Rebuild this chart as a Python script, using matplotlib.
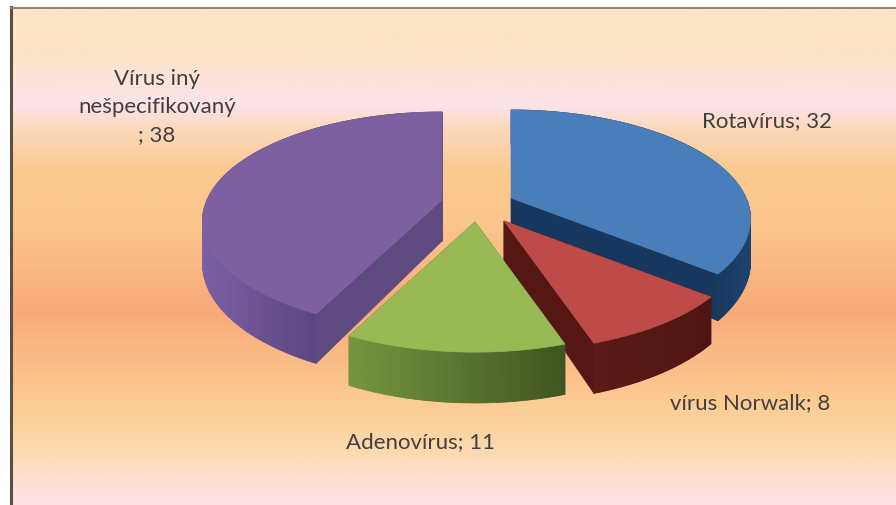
import numpy as np
import matplotlib
matplotlib.use("Agg")
import matplotlib.pyplot as plt
from matplotlib.colors import to_rgb
from matplotlib.patches import Polygon

categories = ["Rotavírus", "vírus Norwalk", "Adenovírus", "Vírus iný nešpecifikovaný"]
values = [32, 8, 11, 38]

# Slice styles, same order as categories
top_colors = ["#4a7ebb", "#be4b48", "#98b954", "#7d60a0"]
cut_colors = ["#17375e", "#551714", "#4f6228", "#5f4a80"]
rim_left = ["#17375e", "#5a1a17", "#76963f", "#7a5fa6"]
rim_right = ["#1c4472", "#4d1512", "#3f5420", "#5b4580"]
apex = [(511, 198), (504, 221), (475, 222), (442, 200)]

RX, RY, K, DEPTH = 235, 105, 0.193, 41


def project(center, theta, r=1.0):
    # flat disc with a little perspective, theta clockwise from the top
    s = 1 / (1 + K * r * np.cos(theta))
    x = center[0] + RX * r * np.sin(theta) * s
    y = center[1] - RY * r * np.cos(theta) * s
    return x, y, s


fig = plt.figure(figsize=(8.96, 5.05), dpi=100)
ax = fig.add_axes([0, 0, 1, 1])
ax.set_xlim(0, 896)
ax.set_ylim(505, 0)
ax.axis("off")

# Background gradient
stop_y = [8, 45, 88, 102, 128, 170, 225, 310, 400, 450, 495, 505]
stop_c = ["#fde6c8", "#fde5c6", "#fde3de", "#fde4ec", "#fcd9bd", "#fbc98f", "#fbc68c",
          "#f9a97a", "#fccb92", "#fdd9ae", "#fde2e4", "#fde2e4"]
ys = np.arange(8, 506)
rgb = np.array([to_rgb(c) for c in stop_c])
grad = np.stack([np.interp(ys, stop_y, rgb[:, i]) for i in range(3)], axis=1)[:, None, :]
ax.imshow(grad, extent=(12, 896, 505, 8), aspect="auto", zorder=0)
ax.set_xlim(0, 896)
ax.set_ylim(505, 0)
ax.plot([11, 11], [7, 505], color="#5a5042", lw=2.2, zorder=1)
ax.plot([11, 896], [7.5, 7.5], color="#8c8474", lw=1.4, zorder=1)

# Slice angles come from the values
edges = np.concatenate([[0], np.cumsum(values)]) / np.sum(values) * 2 * np.pi

# Back to front
z = 2
for i in [0, 3, 1, 2]:
    c = apex[i]
    thetas = np.linspace(edges[i], edges[i + 1], 120)
    px, py, ps = project(c, thetas)

    # cut faces
    for j in [0, -1]:
        quad = [(c[0], c[1]), (px[j], py[j]), (px[j], py[j] + DEPTH * ps[j]), (c[0], c[1] + DEPTH)]
        ax.add_patch(Polygon(quad, closed=True, fc=cut_colors[i], ec=cut_colors[i], lw=0.5, zorder=z))
    z += 1

    # outer rim, shaded from left to right
    lo, hi = np.array(to_rgb(rim_left[i])), np.array(to_rgb(rim_right[i]))
    vis_x = px[np.cos(thetas) < 0.25] if np.any(np.cos(thetas) < 0.25) else px
    for j in range(len(thetas) - 1):
        if px[j] == px[j + 1]:
            continue
        t = np.clip((0.5 * (px[j] + px[j + 1]) - vis_x.min()) / (vis_x.max() - vis_x.min()), 0, 1)
        col = lo + (hi - lo) * t
        quad = [(px[j], py[j]), (px[j + 1], py[j + 1]),
                (px[j + 1], py[j + 1] + DEPTH * ps[j + 1]), (px[j], py[j] + DEPTH * ps[j])]
        ax.add_patch(Polygon(quad, closed=True, fc=col, ec=col, lw=0.6, zorder=z))
    z += 1

    # top face
    top = [(c[0], c[1])] + list(zip(px, py))
    ax.add_patch(Polygon(top, closed=True, fc=top_colors[i], ec=top_colors[i], lw=0.5, zorder=z))
    z += 1

# Labels
font = dict(family="Lato", fontsize=16, color="#404040", ha="center", va="center", zorder=z)
ax.text(767, 121, f"{categories[0]}; {values[0]}", **font)
ax.text(750, 403, f"{categories[1]}; {values[1]}", **font)
ax.text(421, 442, f"{categories[2]}; {values[2]}", **font)
ax.text(157, 107, f"Vírus iný\nnešpecifikovaný\n; {values[3]}", linespacing=1.5, **font)

plt.savefig("out.png", dpi=100)
